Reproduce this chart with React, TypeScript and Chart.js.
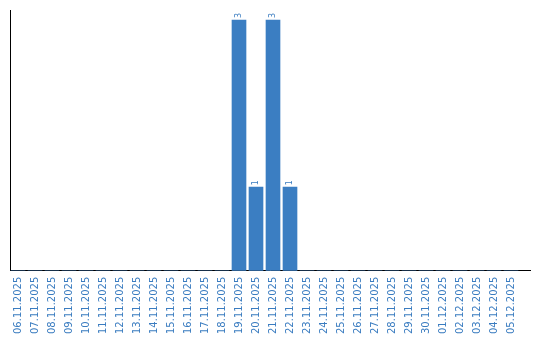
import React, { useEffect, useRef } from "react";
import { Chart, registerables } from "chart.js";

Chart.register(...registerables);

const dates: string[] = [
  "06.11.2025", "07.11.2025", "08.11.2025", "09.11.2025", "10.11.2025",
  "11.11.2025", "12.11.2025", "13.11.2025", "14.11.2025", "15.11.2025",
  "16.11.2025", "17.11.2025", "18.11.2025", "19.11.2025", "20.11.2025",
  "21.11.2025", "22.11.2025", "23.11.2025", "24.11.2025", "25.11.2025",
  "26.11.2025", "27.11.2025", "28.11.2025", "29.11.2025", "30.11.2025",
  "01.12.2025", "02.12.2025", "03.12.2025", "04.12.2025", "05.12.2025",
];

const counts: number[] = [
  0, 0, 0, 0, 0, 0, 0, 0, 0, 0, 0, 0, 0, 3, 1, 3, 1, 0, 0, 0, 0, 0, 0, 0, 0, 0, 0, 0, 0, 0,
];

const BLUE = "#3b7ec2";
const TEXT_BLUE = "#3a7cc0";

const valueLabels = {
  id: "valueLabels",
  afterDatasetsDraw(chart: any) {
    const ctx = chart.ctx;
    const meta = chart.getDatasetMeta(0);
    ctx.save();
    ctx.fillStyle = TEXT_BLUE;
    ctx.font = "8px 'DejaVu Sans'";
    ctx.textAlign = "left";
    ctx.textBaseline = "middle";
    meta.data.forEach((bar: any, i: number) => {
      const v = counts[i];
      if (!v) return;
      ctx.save();
      ctx.translate(bar.x, bar.y - 2);
      ctx.rotate(-Math.PI / 2);
      ctx.fillText(String(v), 0, 0);
      ctx.restore();
    });
    ctx.restore();
  },
};

export default function App() {
  const ref = useRef<HTMLCanvasElement>(null);
  useEffect(() => {
    if (!ref.current) return;
    const chart = new Chart(ref.current, {
      type: "bar",
      data: {
        datasets: [
          {
            data: counts.map((c, i) => ({ x: i, y: c })),
            backgroundColor: BLUE,
            borderWidth: 0,
            barThickness: 14,
          },
        ],
      },
      options: {
        animation: false,
        responsive: false,
        layout: { padding: { left: 10, top: 10, right: 10, bottom: 0 } },
        plugins: { legend: { display: false }, tooltip: { enabled: false } },
        scales: {
          x: {
            type: "linear",
            bounds: "data",
            offset: false,
            min: -0.4706,
            max: 30.1176,
            afterBuildTicks: (s: any) => {
              s.ticks = dates.map((_, i) => ({ value: i }));
            },
            afterFit: (s: any) => {
              s.paddingLeft = 0;
              s.paddingRight = 0;
            },
            grid: { display: false, drawTicks: false, offset: false },
            border: { display: true, color: "#000", width: 1 },
            ticks: {
              autoSkip: false,
              maxRotation: 90,
              minRotation: 90,
              padding: 6,
              color: TEXT_BLUE,
              font: { family: "'DejaVu Sans'", size: 10 },
              callback: (v: any) => {
                const n = Math.round(Number(v));
                return dates[n] ?? "";
              },
            },
          },
          y: {
            min: 0,
            max: 3.12,
            grid: { display: false, drawTicks: false },
            border: { display: true, color: "#000", width: 1 },
            ticks: { display: false },
          },
        },
      },
      plugins: [valueLabels],
    });
    return () => chart.destroy();
  }, []);
  return (
    <div style={{ position: "fixed", left: 0, top: 0, width: 540, height: 340 }}>
      <canvas ref={ref} width={540} height={340} style={{ width: 540, height: 340 }} />
    </div>
  );
}
